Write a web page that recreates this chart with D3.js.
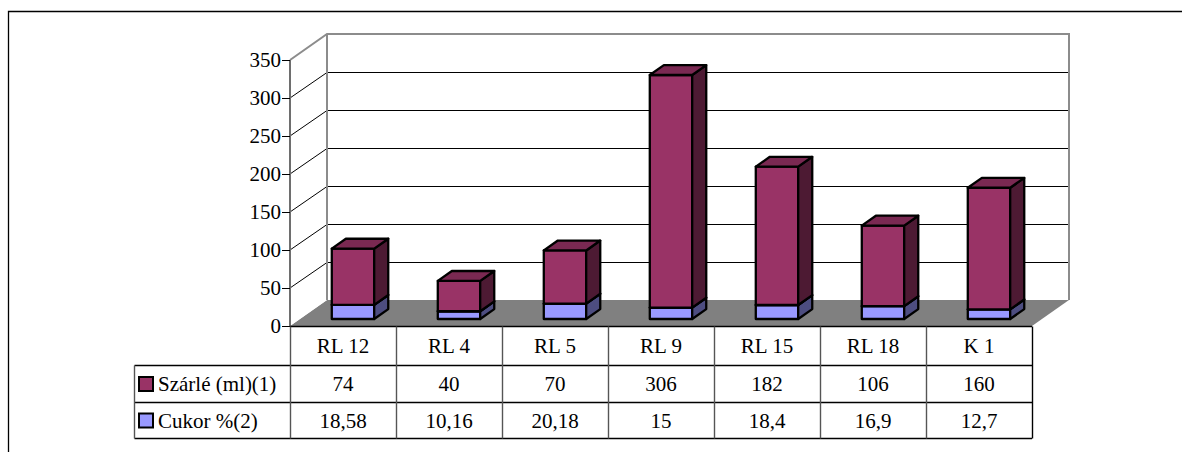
<!DOCTYPE html>
<html>
<head>
<meta charset="utf-8">
<script src="https://cdn.jsdelivr.net/npm/d3@7"></script>
<style>
  html, body { margin: 0; padding: 0; background: #fff; }
  svg { display: block; }
</style>
</head>
<body>
<svg id="chart" width="1182" height="452" font-family="Liberation Serif"></svg>
<script>
// Data
const categories = ["RL 12", "RL 4", "RL 5", "RL 9", "RL 15", "RL 18", "K 1"];
const szarle = [74, 40, 70, 306, 182, 106, 160];
const cukor = [18.58, 10.16, 20.18, 15, 18.4, 16.9, 12.7];
const seriesNames = ["Szárlé (ml)(1)", "Cukor %(2)"];
const yTicks = [0, 50, 100, 150, 200, 250, 300, 350];

const colors = {
  szarle: { front: "#993366", top: "#7a2952", side: "#4d1a33" },
  cukor:  { front: "#9999ff", top: "#7a7acc", side: "#4d4d80" }
};

const FONT = "Liberation Serif";
const FS = 21;
const svg = d3.select("#chart");

// Frame geometry
const left = 290, right = 1032, floorY = 326, topY = 60;
const depthX = 37, depthY = -26;          // offset from front plane to back wall
const barD0 = 0.27, barD1 = 0.65;         // bar depth range (fraction of floor depth)

const x = d3.scaleBand().domain(categories).range([left, right]).padding(0);
const y = d3.scaleLinear().domain([0, 350]).range([floorY, topY]);

// project a point given front-plane x, value and depth fraction
const P = (px, v, d) => [px + d * depthX, y(v) + d * depthY];
const poly = pts => "M" + pts.map(p => p.join(",")).join("L") + "Z";
const crisp = v => Math.round(v) + 0.5;

// Outer border
svg.append("path")
  .attr("d", "M8.5,452 L8.5,11.5 L1182,11.5")
  .attr("fill", "none").attr("stroke", "#000").attr("stroke-width", 1.3);

// Floor
svg.append("path")
  .attr("d", poly([P(left, 0, 0), P(right, 0, 0), P(right, 0, 1), P(left, 0, 1)]))
  .attr("fill", "#808080");

// Left wall
svg.append("path")
  .attr("d", poly([P(left, 0, 0), P(left, 350, 0), P(left, 350, 1), P(left, 0, 1)]))
  .attr("fill", "#fff");

// Back wall
svg.append("path")
  .attr("d", poly([P(left, 0, 1), P(left, 350, 1), P(right, 350, 1), P(right, 0, 1)]))
  .attr("fill", "#fff");

// Gridlines on left and back walls
const grid = svg.append("g");
yTicks.filter(t => t > 0 && t < 350).forEach(t => {
  const a = P(left, t, 0), b = P(left, t, 1), c = P(right, t, 1);
  const by = crisp(b[1]);
  grid.append("path")
    .attr("d", `M${a[0]},${a[1]}L${b[0]},${by}`)
    .attr("fill", "none").attr("stroke", "#000").attr("stroke-width", 1);
  grid.append("path")
    .attr("d", `M${b[0]},${by}L${c[0]},${by}`)
    .attr("fill", "none").attr("stroke", "#000").attr("stroke-width", 1.2);
});

// Wall borders
svg.append("path")
  .attr("d", "M" + P(left, 350, 0).join(",") + "L" + P(left, 350, 1).join(",") + "L" + P(right, 350, 1).join(",") +
             "L" + P(right, 0, 1).join(","))
  .attr("fill", "none").attr("stroke", "#8c8c8c").attr("stroke-width", 2);
svg.append("path")
  .attr("d", "M" + P(left, 350, 1).join(",") + "L" + P(left, 0, 1).join(","))
  .attr("fill", "none").attr("stroke", "#8c8c8c").attr("stroke-width", 2);
svg.append("path")
  .attr("d", "M" + P(left, 0, 0).join(",") + "L" + P(left, 350, 0).join(","))
  .attr("fill", "none").attr("stroke", "#6e6e6e").attr("stroke-width", 2);

// Y axis ticks and labels
const yAxis = svg.append("g");
yTicks.forEach(t => {
  yAxis.append("line")
    .attr("x1", left - 8).attr("x2", left).attr("y1", crisp(y(t))).attr("y2", crisp(y(t)))
    .attr("stroke", "#000").attr("stroke-width", 1);
  yAxis.append("text")
    .attr("x", left - 9).attr("y", y(t)).attr("dy", "0.35em")
    .attr("text-anchor", "end").attr("font-family", FONT).attr("font-size", FS)
    .text(t);
});

// 3D bar segments
function drawBlock(g, cx, v0, v1, c) {
  const bw = x.bandwidth() * 0.4;
  const xl = cx - bw / 2, xr = cx + bw / 2;
  const sw = 2.3;
  // front
  g.append("path").attr("d", poly([P(xl, v0, barD0), P(xr, v0, barD0), P(xr, v1, barD0), P(xl, v1, barD0)]))
    .attr("fill", c.front).attr("stroke", "#000").attr("stroke-width", sw).attr("stroke-linejoin", "round");
  // side
  g.append("path").attr("d", poly([P(xr, v0, barD0), P(xr, v0, barD1), P(xr, v1, barD1), P(xr, v1, barD0)]))
    .attr("fill", c.side).attr("stroke", "#000").attr("stroke-width", sw).attr("stroke-linejoin", "round");
  // top
  g.append("path").attr("d", poly([P(xl, v1, barD0), P(xr, v1, barD0), P(xr, v1, barD1), P(xl, v1, barD1)]))
    .attr("fill", c.top).attr("stroke", "#000").attr("stroke-width", sw).attr("stroke-linejoin", "round");
}

const bars = svg.append("g");
categories.forEach((cat, i) => {
  const cx = x(cat) + x.bandwidth() / 2;
  const g = bars.append("g");
  drawBlock(g, cx, 0, cukor[i], colors.cukor);
  drawBlock(g, cx, cukor[i], cukor[i] + szarle[i], colors.szarle);
});

// Data table
const rowY = [326.5, 365.5, 402.5, 438.5];
const legLeft = 134.5;
const table = svg.append("g");
const fmt = v => String(v).replace(".", ",");

// horizontal lines
table.append("line").attr("x1", left).attr("x2", right).attr("y1", rowY[0]).attr("y2", rowY[0])
  .attr("stroke", "#000").attr("stroke-width", 1.4);
[1, 2, 3].forEach(r => {
  table.append("line").attr("x1", legLeft).attr("x2", right).attr("y1", rowY[r]).attr("y2", rowY[r])
    .attr("stroke", "#000").attr("stroke-width", 1.4);
});
// vertical lines
categories.forEach(cat => {
  table.append("line").attr("x1", crisp(x(cat))).attr("x2", crisp(x(cat))).attr("y1", rowY[0]).attr("y2", rowY[3])
    .attr("stroke", "#555").attr("stroke-width", 1.4);
});
table.append("line").attr("x1", crisp(right)).attr("x2", crisp(right)).attr("y1", rowY[0]).attr("y2", rowY[3])
  .attr("stroke", "#000").attr("stroke-width", 1.4);
table.append("line").attr("x1", legLeft).attr("x2", legLeft).attr("y1", rowY[1]).attr("y2", rowY[3])
  .attr("stroke", "#555").attr("stroke-width", 1.4);

const midY = r => (rowY[r] + rowY[r + 1]) / 2;
const cell = (tx, ty, s, anchor) => table.append("text")
  .attr("x", tx).attr("y", ty).attr("dy", "0.35em")
  .attr("text-anchor", anchor).attr("font-family", FONT).attr("font-size", FS).text(s);

categories.forEach((cat, i) => {
  const cx = x(cat) + x.bandwidth() / 2;
  cell(cx, midY(0), cat, "middle");
  cell(cx, midY(1), fmt(szarle[i]), "middle");
  cell(cx, midY(2), fmt(cukor[i]), "middle");
});

// legend keys in the table
[colors.szarle, colors.cukor].forEach((c, r) => {
  const cy = midY(r + 1);
  table.append("rect").attr("x", 139).attr("y", cy - 7).attr("width", 14).attr("height", 14)
    .attr("fill", c.front).attr("stroke", "#000").attr("stroke-width", 2);
  cell(158, cy, seriesNames[r], "start");
});
</script>
</body>
</html>
